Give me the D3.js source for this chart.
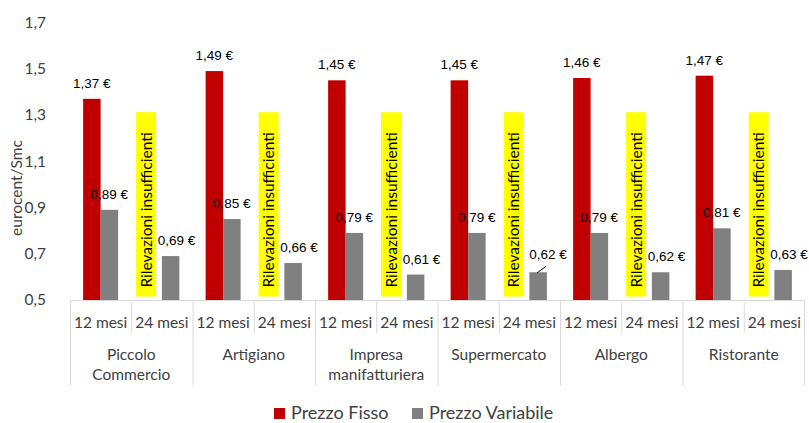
<!DOCTYPE html>
<html><head><meta charset="utf-8">
<script src="https://cdn.jsdelivr.net/npm/d3@7"></script>
<style>body{margin:0;background:#fff}svg{display:block}</style>
</head><body><svg id="c" width="809" height="423"></svg>
<script>
// ---- data ----
const groups = ["Piccolo\nCommercio", "Artigiano", "Impresa\nmanifatturiera", "Supermercato", "Albergo", "Ristorante"];
const periods = ["12 mesi", "24 mesi"];
const series = ["Prezzo Fisso", "Prezzo Variabile"];
const fisso12 = [1.37, 1.49, 1.45, 1.45, 1.46, 1.47];
const fisso24 = [null, null, null, null, null, null];
const variabile12 = [0.89, 0.85, 0.79, 0.79, 0.79, 0.81];
const variabile24 = [0.69, 0.66, 0.61, 0.62, 0.62, 0.63];
const yTicks = [0.5, 0.7, 0.9, 1.1, 1.3, 1.5, 1.7];
const yTitle = "eurocent/Smc";
const noteText = "Rilevazioni insufficienti";
const noteRange = [0.515, 1.312];

const colors = {"Prezzo Fisso": "#c00000", "Prezzo Variabile": "#808080"};
const fmt = v => d3.format(".2f")(v).replace(".", ",") + " €";

const svg = d3.select("#c");
const L = 70, R = 805, T = 22.5, B = 300;
const y = d3.scaleLinear().domain([0.5, 1.7]).range([B, T]);
const xg = d3.scaleBand().domain(groups).range([L, R]);
const xp = d3.scaleBand().domain(periods).range([0, xg.bandwidth()]);
const xs = d3.scaleBand().domain(series).range([0, xp.bandwidth()]).paddingInner(0).paddingOuter(0.75);

const rows = [];
groups.forEach((g, i) => {
  rows.push({g, p: "12 mesi", s: "Prezzo Fisso", v: fisso12[i]});
  rows.push({g, p: "12 mesi", s: "Prezzo Variabile", v: variabile12[i]});
  rows.push({g, p: "24 mesi", s: "Prezzo Fisso", v: fisso24[i]});
  rows.push({g, p: "24 mesi", s: "Prezzo Variabile", v: variabile24[i]});
});
const bx = d => xg(d.g) + xp(d.p) + xs(d.s);
const FONT = "Lato, 'Open Sans', sans-serif";

// y axis (labels only)
const yAxis = svg.append("g").attr("transform", `translate(${L},0)`)
  .call(d3.axisLeft(y).tickValues(yTicks).tickSize(0).tickPadding(24)
    .tickFormat(v => d3.format(".1f")(v).replace(".", ",")));
yAxis.select(".domain").remove();
yAxis.selectAll("text").attr("font-family", FONT).attr("font-size", 15.5).attr("fill", "#404040");
svg.append("text").attr("transform", `translate(22,188) rotate(-90)`)
  .attr("text-anchor", "middle").attr("font-family", FONT).attr("font-size", 15.5)
  .attr("fill", "#404040").text(yTitle);

// bars
const valid = rows.filter(d => d.v != null);
svg.append("g").selectAll("rect").data(valid).join("rect")
  .attr("x", bx).attr("width", xs.bandwidth())
  .attr("y", d => y(d.v)).attr("height", d => y(0.5) - y(d.v))
  .attr("fill", d => colors[d.s]);

// "insufficient" notes
const missing = rows.filter(d => d.v == null);
const noteW = 20;
const ng = svg.append("g").selectAll("g").data(missing).join("g")
  .attr("transform", d => `translate(${bx(d) + xs.bandwidth() / 2 - 7 - noteW / 2},0)`);
ng.append("rect").attr("x", 0).attr("width", noteW)
  .attr("y", y(noteRange[1])).attr("height", y(noteRange[0]) - y(noteRange[1])).attr("fill", "#ffff00");
ng.append("text").attr("transform", `translate(${noteW / 2 + 5.5},${y(noteRange[0]) - 9}) rotate(-90)`)
  .attr("font-family", FONT).attr("font-size", 15.5).attr("fill", "#000")
  .text(noteText);

// value labels (layout nudges)
const nudge = {"Supermercato|24 mesi|Prezzo Variabile": [10, -2]};
const pNudge = {"12 mesi": 0, "24 mesi": 6};
const lbl = svg.append("g");
valid.forEach(d => {
  const key = `${d.g}|${d.p}|${d.s}`;
  let dx = d.s === "Prezzo Fisso" ? 0 : pNudge[d.p];
  let dy = 0;
  if (nudge[key]) { dx = nudge[key][0]; dy = nudge[key][1]; }
  const cx = bx(d) + xs.bandwidth() / 2;
  lbl.append("text").attr("x", cx + dx).attr("y", y(d.v) - 11 + dy)
    .attr("text-anchor", "middle").attr("font-family", "'Liberation Sans', Arial, sans-serif")
    .attr("font-size", 13.5).attr("fill", "#000").text(fmt(d.v));
  if (nudge[key]) {
    lbl.append("line").attr("x1", cx - 1).attr("y1", y(d.v) + 0.5)
      .attr("x2", cx + 8).attr("y2", y(d.v) - 6).attr("stroke", "#000").attr("stroke-width", 1);
  }
});

// x axis (two levels)
const ax = svg.append("g").attr("stroke", "#d9d9d9").attr("stroke-width", 1);
ax.append("line").attr("x1", L).attr("x2", R).attr("y1", B + 0.5).attr("y2", B + 0.5);
groups.forEach(g => {
  ax.append("line").attr("x1", xg(g) + 0.5).attr("x2", xg(g) + 0.5).attr("y1", B).attr("y2", 385);
  ax.append("line").attr("x1", xg(g) + xp("24 mesi") + 0.5).attr("x2", xg(g) + xp("24 mesi") + 0.5).attr("y1", B).attr("y2", 333);
});
ax.append("line").attr("x1", R - 0.5).attr("x2", R - 0.5).attr("y1", B).attr("y2", 385);

const xt = svg.append("g").attr("font-family", FONT).attr("fill", "#404040").attr("text-anchor", "middle");
groups.forEach(g => {
  periods.forEach(p => {
    xt.append("text").attr("x", xg(g) + xp(p) + xp.bandwidth() / 2).attr("y", 328)
      .attr("font-size", 15.5).text(p);
  });
  const lines = g.split("\n");
  lines.forEach((t, i) => {
    xt.append("text").attr("x", xg(g) + xg.bandwidth() / 2).attr("y", 360 + i * 19.5)
      .attr("font-size", 15.5).text(t);
  });
});

// legend
const leg = svg.append("g").attr("font-family", FONT);
const legX = [274, 412];
series.forEach((s, i) => {
  leg.append("rect").attr("x", legX[i]).attr("y", 408).attr("width", 11).attr("height", 11).attr("fill", colors[s]);
  leg.append("text").attr("x", legX[i] + 17).attr("y", 419).attr("font-size", 18).attr("fill", "#404040").text(s);
});
</script></body></html>
